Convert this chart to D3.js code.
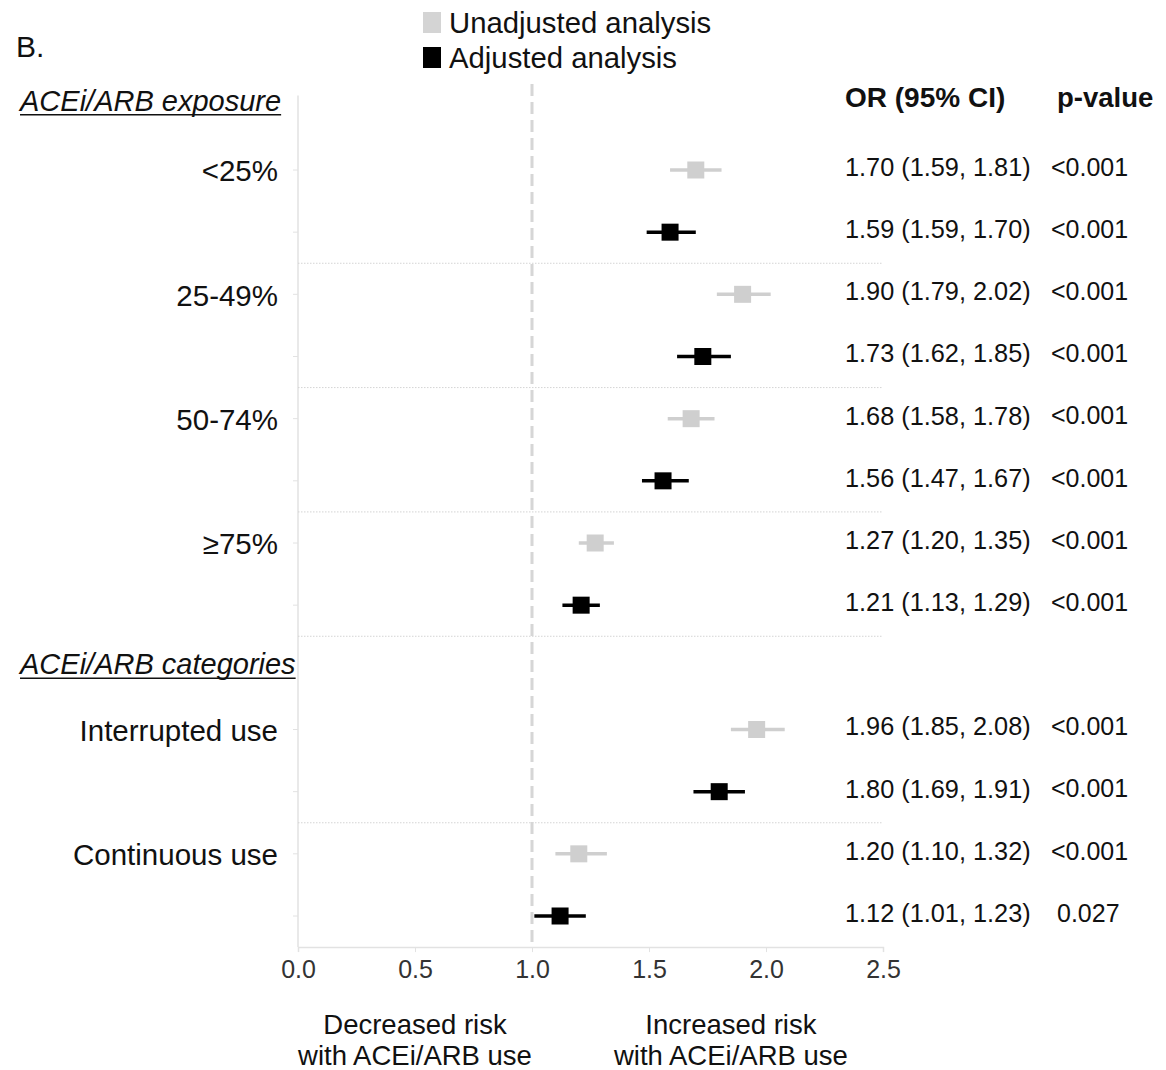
<!DOCTYPE html>
<html>
<head>
<meta charset="utf-8">
<script src="https://cdn.jsdelivr.net/npm/d3@7"></script>
<style>
  body { margin: 0; background: #fff; }
  svg { display: block; font-family: "Liberation Sans", Arial, Helvetica, sans-serif; }
</style>
</head>
<body>
<svg id="chart" width="1166" height="1070"></svg>
<script>
// --- data ---
const groups = ["<25%", "25-49%", "50-74%", "\u226575%", "Interrupted use", "Continuous use"];
const sections = ["ACEi/ARB exposure", "ACEi/ARB categories"];
const groupSection = [0, 0, 0, 0, 1, 1];

const unadjOR = [1.70, 1.90, 1.68, 1.27, 1.96, 1.20];
const unadjLo = [1.59, 1.79, 1.58, 1.20, 1.85, 1.10];
const unadjHi = [1.81, 2.02, 1.78, 1.35, 2.08, 1.32];
const adjOR = [1.59, 1.73, 1.56, 1.21, 1.80, 1.12];
const adjLo = [1.49, 1.62, 1.47, 1.13, 1.69, 1.01];
const adjHi = [1.70, 1.85, 1.67, 1.29, 1.91, 1.23];

const unadjText = ["1.70 (1.59, 1.81)", "1.90 (1.79, 2.02)", "1.68 (1.58, 1.78)", "1.27 (1.20, 1.35)", "1.96 (1.85, 2.08)", "1.20 (1.10, 1.32)"];
const adjText = ["1.59 (1.59, 1.70)", "1.73 (1.62, 1.85)", "1.56 (1.47, 1.67)", "1.21 (1.13, 1.29)", "1.80 (1.69, 1.91)", "1.12 (1.01, 1.23)"];
const unadjP = ["<0.001", "<0.001", "<0.001", "<0.001", "<0.001", "<0.001"];
const adjP = ["<0.001", "<0.001", "<0.001", "<0.001", "<0.001", "0.027"];

const xTicks = [0, 0.5, 1.0, 1.5, 2.0, 2.5];
const seriesNames = ["Unadjusted analysis", "Adjusted analysis"];
const seriesColors = ["#cfcfcf", "#000000"];

// --- layout ---
const svg = d3.select("#chart");
svg.append("rect").attr("width", 1166).attr("height", 1070).attr("fill", "#fff");

const x = d3.scaleLinear().domain([0, 2.5]).range([298, 883]);
// row slots: header 0, rows 1..8, header 9, rows 10..13
const y = d3.scaleLinear().domain([1, 13]).range([170, 916]);

function slotOf(g, adj) {
    const base = groupSection[g] === 0 ? 1 + 2 * g : 10 + 2 * (g - 4);
    return base + (adj ? 1 : 0);
}

const rows = [];
groups.forEach((g, i) => {
    rows.push({ g: i, s: 0, or: unadjOR[i], lo: unadjLo[i], hi: unadjHi[i], txt: unadjText[i], p: unadjP[i], slot: slotOf(i, false) });
    rows.push({ g: i, s: 1, or: adjOR[i], lo: adjLo[i], hi: adjHi[i], txt: adjText[i], p: adjP[i], slot: slotOf(i, true) });
});

// left axis line + ticks
svg.append("line")
    .attr("x1", x(0)).attr("x2", x(0))
    .attr("y1", y(-0.2)).attr("y2", y(13.5))
    .attr("stroke", "#e2e2e2").attr("stroke-width", 1.5);
svg.selectAll("line.ytick").data(rows).join("line").attr("class", "ytick")
    .attr("x1", x(0) - 5).attr("x2", x(0))
    .attr("y1", d => y(d.slot)).attr("y2", d => y(d.slot))
    .attr("stroke", "#e2e2e2").attr("stroke-width", 1);

// dotted separators
const seps = [2.5, 4.5, 6.5, 8.5, 11.5];
svg.selectAll("line.sep").data(seps).join("line").attr("class", "sep")
    .attr("x1", x(0)).attr("x2", x(2.5))
    .attr("y1", d => y(d)).attr("y2", d => y(d))
    .attr("stroke", "#d4d4d4").attr("stroke-width", 1)
    .attr("stroke-dasharray", "1.5,1.5");

// reference line at OR = 1
svg.append("line")
    .attr("x1", x(1)).attr("x2", x(1))
    .attr("y1", 84).attr("y2", y(13.5))
    .attr("stroke", "#d6d6d6").attr("stroke-width", 3)
    .attr("stroke-dasharray", "12,6");

// bottom axis
const xAxis = svg.append("g")
    .attr("transform", `translate(0,${y(13.5)})`)
    .call(d3.axisBottom(x).tickValues(xTicks).tickFormat(d3.format(".1f")).tickSize(5).tickPadding(8));
xAxis.select(".domain").attr("stroke", "#e2e2e2").attr("stroke-width", 1.5);
xAxis.selectAll(".tick line").attr("stroke", "#e2e2e2");
xAxis.selectAll(".tick text")
    .attr("font-size", 25).attr("fill", "#333")
    .attr("font-family", "'Liberation Sans', Arial, sans-serif");

// CI whiskers and markers
svg.selectAll("line.ci").data(rows).join("line").attr("class", "ci")
    .attr("x1", d => x(d.lo)).attr("x2", d => x(d.hi))
    .attr("y1", d => y(d.slot)).attr("y2", d => y(d.slot))
    .attr("stroke", d => seriesColors[d.s]).attr("stroke-width", 3.5);
const sq = 17;
svg.selectAll("rect.pt").data(rows).join("rect").attr("class", "pt")
    .attr("x", d => x(d.or) - sq / 2).attr("y", d => y(d.slot) - sq / 2)
    .attr("width", sq).attr("height", sq)
    .attr("fill", d => seriesColors[d.s]);

// group labels
svg.selectAll("text.glabel").data(groups).join("text").attr("class", "glabel")
    .attr("x", 278).attr("y", (d, i) => y(slotOf(i, false)) + 1)
    .attr("dy", "0.35em").attr("text-anchor", "end")
    .attr("font-size", 29.5).attr("fill", "#111")
    .text(d => d);

// section headers (italic, underlined)
const secY = [y(0) - 7, y(9) - 3];
sections.forEach((s, i) => {
    const t = svg.append("text")
        .attr("x", 20).attr("y", secY[i]).attr("dy", "0.35em")
        .attr("font-size", 29).attr("font-style", "italic").attr("fill", "#111")
        .text(s);
    const w = t.node().getComputedTextLength();
    svg.append("line")
        .attr("x1", 20).attr("x2", 20 + w)
        .attr("y1", secY[i] + 14).attr("y2", secY[i] + 14)
        .attr("stroke", "#111").attr("stroke-width", 1.5);
});

// OR and p-value columns
svg.append("text").attr("x", 845).attr("y", 97).attr("dy", "0.35em")
    .attr("font-size", 28).attr("font-weight", "bold").attr("fill", "#111")
    .text("OR (95% CI)");
svg.append("text").attr("x", 1057).attr("y", 97).attr("dy", "0.35em")
    .attr("font-size", 27.5).attr("font-weight", "bold").attr("fill", "#111")
    .text("p-value");
svg.selectAll("text.ortxt").data(rows).join("text").attr("class", "ortxt")
    .attr("x", 845).attr("y", d => y(d.slot) - 3).attr("dy", "0.35em")
    .attr("font-size", 25.3).attr("fill", "#111")
    .text(d => d.txt);
svg.selectAll("text.ptxt").data(rows).join("text").attr("class", "ptxt")
    .attr("x", d => d.p === "0.027" ? 1057 : 1051).attr("y", d => y(d.slot) - 3).attr("dy", "0.35em")
    .attr("font-size", 25).attr("fill", "#111")
    .text(d => d.p);

// legend
const leg = svg.selectAll("g.leg").data(seriesNames).join("g").attr("class", "leg")
    .attr("transform", (d, i) => `translate(423,${22 + i * 35})`);
leg.append("rect").attr("x", 0).attr("y", -10).attr("width", 18).attr("height", 21)
    .attr("fill", (d, i) => i === 0 ? "#d4d4d4" : "#000");
leg.append("text").attr("x", 26).attr("y", 1).attr("dy", "0.35em")
    .attr("font-size", 29.3).attr("fill", "#111")
    .text(d => d);

// panel letter
svg.append("text").attr("x", 16).attr("y", 46).attr("dy", "0.35em")
    .attr("font-size", 30).attr("fill", "#111").text("B.");

// direction labels under the axis
const dirLabels = [
    { at: 0.5, lines: ["Decreased risk", "with ACEi/ARB use"] },
    { at: 1.85, lines: ["Increased risk", "with ACEi/ARB use"] }
];
dirLabels.forEach(dl => {
    dl.lines.forEach((ln, j) => {
        svg.append("text").attr("x", x(dl.at)).attr("y", 1024 + j * 31).attr("dy", "0.35em")
            .attr("text-anchor", "middle").attr("font-size", 27.5).attr("fill", "#111")
            .text(ln);
    });
});
</script>
</body>
</html>
